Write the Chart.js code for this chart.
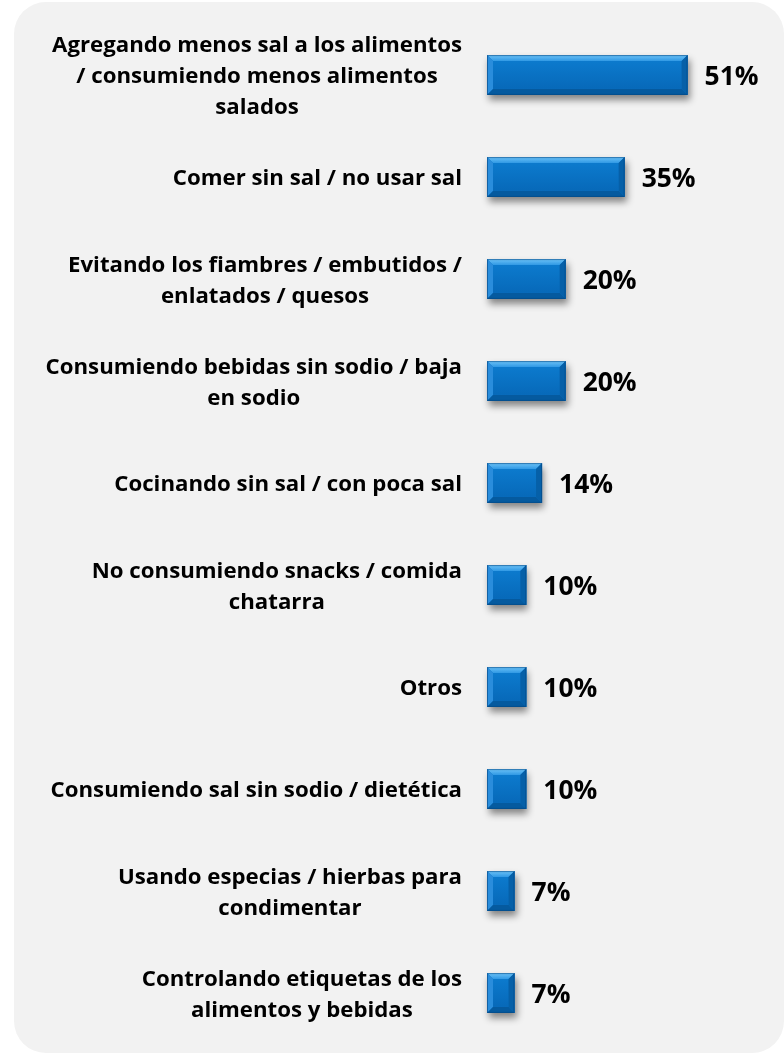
<!DOCTYPE html>
<html><head><meta charset="utf-8">
<script src="https://cdn.jsdelivr.net/npm/chart.js@4"></script>
<style>
html,body{margin:0;padding:0;background:#fff;}
#wrap{position:relative;width:784px;height:1056px;overflow:hidden;}
#bg{position:absolute;left:14px;top:2px;width:770px;height:1051px;border-radius:32px;background:#f2f2f2;}
canvas{position:absolute;left:0;top:0;}
</style></head><body>
<div id="wrap"><div id="bg"></div><canvas id="c" width="784" height="1056"></canvas></div>
<script>
const categories = [
  ["Agregando menos sal a los alimentos", "/ consumiendo menos alimentos", "salados"],
  ["Comer sin sal / no usar sal"],
  ["Evitando los fiambres / embutidos /", "enlatados / quesos"],
  ["Consumiendo bebidas sin sodio / baja", "en sodio"],
  ["Cocinando sin sal / con poca sal"],
  ["No consumiendo snacks / comida", "chatarra"],
  ["Otros"],
  ["Consumiendo sal sin sodio / dietética"],
  ["Usando especias / hierbas para", "condimentar"],
  ["Controlando etiquetas de los", "alimentos y bebidas"]
];
const values = [51, 35, 20, 20, 14, 10, 10, 10, 7, 7];
const valueLabels = ["51%", "35%", "20%", "20%", "14%", "10%", "10%", "10%", "7%", "7%"];

const FAMILY = "'Open Sans', Lato, sans-serif";

function fitFont(ctx, text, targetW) {
  ctx.save();
  ctx.font = "bold 20px " + FAMILY;
  const w = ctx.measureText(text).width;
  ctx.restore();
  return "bold " + (20 * targetW / w).toFixed(2) + "px " + FAMILY;
}

function barProps(el) {
  const p = el.getProps(['x', 'y', 'base', 'height'], true);
  return { L: Math.min(p.base, p.x), R: Math.max(p.base, p.x), T: p.y - p.height / 2, B: p.y + p.height / 2, cy: p.y };
}

const shadowPlugin = {
  id: 'shadowPlugin',
  beforeDatasetsDraw(chart) {
    const ctx = chart.ctx;
    const meta = chart.getDatasetMeta(0);
    ctx.save();
    meta.data.forEach(el => {
      const b = barProps(el);
      ctx.shadowColor = 'rgba(0,0,0,0.45)';
      ctx.shadowBlur = 7;
      ctx.shadowOffsetX = 2;
      ctx.shadowOffsetY = 5;
      ctx.fillStyle = '#0a6fc0';
      ctx.fillRect(b.L, b.T, b.R - b.L, b.B - b.T);
    });
    ctx.restore();
  }
};

const bevelPlugin = {
  id: 'bevelPlugin',
  afterDatasetsDraw(chart) {
    const ctx = chart.ctx;
    const meta = chart.getDatasetMeta(0);
    ctx.save();
    meta.data.forEach(el => {
      const b = barProps(el);
      const w = b.R - b.L, h = b.B - b.T;
      const bv = Math.min(6, w / 2, h / 2);
      const poly = (pts, fill) => {
        ctx.beginPath();
        ctx.moveTo(pts[0][0], pts[0][1]);
        for (let i = 1; i < pts.length; i++) ctx.lineTo(pts[i][0], pts[i][1]);
        ctx.closePath();
        ctx.fillStyle = fill;
        ctx.fill();
      };
      const gFace = ctx.createLinearGradient(0, b.T + bv, 0, b.B - bv);
      gFace.addColorStop(0, '#0c7acd');
      gFace.addColorStop(1, '#0769b9');
      ctx.fillStyle = gFace;
      ctx.fillRect(b.L + bv, b.T + bv, w - 2 * bv, h - 2 * bv);
      const gTop = ctx.createLinearGradient(0, b.T, 0, b.T + bv);
      gTop.addColorStop(0, '#6cc2f7');
      gTop.addColorStop(1, '#2f98e4');
      poly([[b.L, b.T], [b.R, b.T], [b.R - bv, b.T + bv], [b.L + bv, b.T + bv]], gTop);
      poly([[b.L, b.T], [b.L + bv, b.T + bv], [b.L + bv, b.B - bv], [b.L, b.B]], '#2a8ddc');
      poly([[b.L, b.B], [b.L + bv, b.B - bv], [b.R - bv, b.B - bv], [b.R, b.B]], '#055a9f');
      poly([[b.R, b.T], [b.R, b.B], [b.R - bv, b.B - bv], [b.R - bv, b.T + bv]], '#0660a8');
      ctx.strokeStyle = 'rgba(4,70,130,0.6)';
      ctx.lineWidth = 1;
      ctx.strokeRect(b.L + 0.5, b.T + 0.5, w - 1, h - 1);
    });
    ctx.restore();
  }
};

const textPlugin = {
  id: 'textPlugin',
  afterDraw(chart) {
    const ctx = chart.ctx;
    const yScale = chart.scales.y;
    const meta = chart.getDatasetMeta(0);
    const area = chart.chartArea;
    ctx.save();
    ctx.fillStyle = '#000';
    ctx.textBaseline = 'middle';
    ctx.font = fitFont(ctx, categories[0][0], 410);
    ctx.textAlign = 'center';
    const lineH = 31;
    const rightEdge = area.left - 25;
    categories.forEach((lines, i) => {
      const yc = yScale.getPixelForValue(i) + 2;
      const bw = Math.max(...lines.map(l => ctx.measureText(l).width));
      const cx = rightEdge - bw / 2;
      lines.forEach((l, j) => {
        ctx.fillText(l, cx, yc + (j - (lines.length - 1) / 2) * lineH);
      });
    });
    ctx.font = fitFont(ctx, valueLabels[0], 54);
    ctx.textAlign = 'left';
    meta.data.forEach((el, i) => {
      const b = barProps(el);
      ctx.fillText(valueLabels[i], b.R + 17, b.cy + 2);
    });
    ctx.restore();
  }
};

new Chart(document.getElementById('c'), {
  type: 'bar',
  data: {
    labels: categories,
    datasets: [{
      data: values,
      backgroundColor: '#0a72c4',
      borderWidth: 0,
      barPercentage: 0.78,
      categoryPercentage: 0.5
    }]
  },
  options: {
    indexAxis: 'y',
    responsive: false,
    animation: false,
    devicePixelRatio: 1,
    layout: { padding: { left: 487, right: 61, top: 24, bottom: 12 } },
    plugins: { legend: { display: false }, tooltip: { enabled: false } },
    scales: {
      x: { display: false, min: 0, max: 60 },
      y: { display: false }
    }
  },
  plugins: [shadowPlugin, bevelPlugin, textPlugin]
});
</script>
</body></html>
